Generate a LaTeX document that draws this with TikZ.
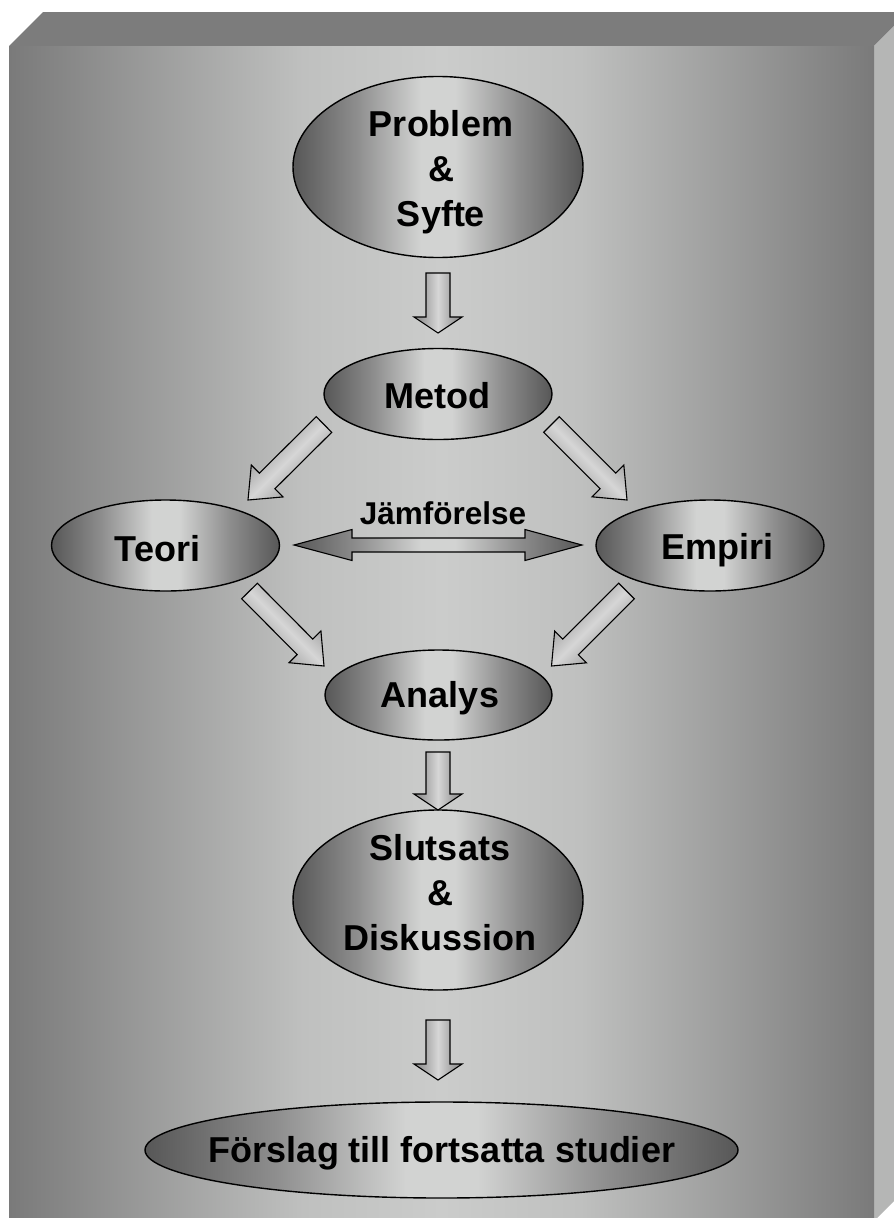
\documentclass[tikz,border=0pt]{standalone}
\usepackage{fontspec}
\setmainfont{Liberation Sans}
\usetikzlibrary{shapes.geometric,calc}
\definecolor{bgdark}{HTML}{7A7A7A}
\definecolor{bgmid}{HTML}{BFC0BF}
\definecolor{bglight}{HTML}{CBCCCB}
\definecolor{topcol}{HTML}{7C7C7C}
\definecolor{sidecol}{HTML}{B5B6B5}
\definecolor{edk}{HTML}{575757}
\definecolor{emd}{HTML}{8E8E8E}
\definecolor{elt}{HTML}{D2D3D2}
\definecolor{adk}{HTML}{9A9A9A}
\definecolor{alt}{HTML}{D6D6D6}
\pgfdeclarehorizontalshading{bgshade}{100bp}{color(0bp)=(bgdark);color(25bp)=(bgdark);color(42bp)=(bgmid);color(50bp)=(bglight);color(58bp)=(bgmid);color(75bp)=(bgdark);color(100bp)=(bgdark)}
\pgfdeclarehorizontalshading{ellshade}{100bp}{color(0bp)=(edk);color(25bp)=(edk);color(36bp)=(emd);color(47bp)=(elt);color(53bp)=(elt);color(64bp)=(emd);color(75bp)=(edk);color(100bp)=(edk)}
\pgfdeclarehorizontalshading{arrshade}{100bp}{color(0bp)=(adk);color(32bp)=(adk);color(50bp)=(alt);color(68bp)=(adk);color(100bp)=(adk)}
\newcommand\blockarrow[6][]{%
  \coordinate (ba-h) at ($(#3)!#6!(#2)$);
  \draw[barrow,#1] ($(#2)!#4!90:(#3)$) -- ($(ba-h)!#4!90:(#3)$) -- ($(ba-h)!#5!90:(#3)$) -- (#3) -- ($(ba-h)!#5!-90:(#3)$) -- ($(ba-h)!#4!-90:(#3)$) -- ($(#2)!#4!-90:(#3)$) -- cycle;}
\tikzset{
  ell/.style={ellipse, draw=black, line width=1.4pt, shade, shading=ellshade, inner sep=0pt},
  lbl/.style={font=\fontsize{36}{45}\selectfont\bfseries, align=center, inner sep=0pt},
  jlbl/.style={font=\fontsize{31.5}{36}\selectfont\bfseries, inner sep=0pt},
  barrow/.style={draw=black, line width=1.1pt, line join=miter, shade, shading=arrshade},
  dblarrow/.style={draw=black, line width=1.1pt, line join=miter, shade, shading=ellshade}
}
\begin{document}
\begin{tikzpicture}[x=1pt,y=-1pt]
\useasboundingbox (0,0) rectangle (894,1218);
\clip (0,0) rectangle (894,1218);
\fill[white] (0,0) rectangle (894,1218);
% box
\fill[topcol] (43,12) -- (908,12) -- (874,46) -- (9,46) -- cycle;
\fill[sidecol] (874,46) -- (908,12) -- (908,1187) -- (874,1221) -- cycle;
\shade[shading=bgshade] (9,46) rectangle (874,1221);
% nodes
\node[ell, minimum width=290pt, minimum height=181pt] (prob) at (438,167) {};
\node[lbl] (probt) at (441,172.5) {Problem\\\&\\Syfte};
\node[ell, minimum width=228pt, minimum height=91pt] (metod) at (438,394) {};
\node[lbl] (metodt) at (437.5,396) {Metod};
\node[ell, minimum width=228pt, minimum height=91pt] (teori) at (165.5,545.5) {};
\node[lbl] (teorit) at (157.5,548.5) {Teori};
\node[ell, minimum width=228pt, minimum height=91pt] (empiri) at (710,545.5) {};
\node[lbl] (empirit) at (717.5,550.5) {Empiri};
\node[ell, minimum width=227pt, minimum height=90pt] (analys) at (438.5,695) {};
\node[lbl] (analyst) at (440,698.5) {Analys};
\node[ell, minimum width=290pt, minimum height=180pt] (slut) at (438,900) {};
\node[lbl] (slutt) at (440,893) {Slutsats\\\&\\Diskussion};
\node[ell, minimum width=593pt, minimum height=96pt] (forslag) at (441.5,1150) {};
\node[lbl] (forslagt) at (442,1153.5) {Förslag till fortsatta studier};
% vertical block arrows
\coordinate (a1t) at (438,273); \coordinate (a1h) at (438,333);
\blockarrow{a1t}{a1h}{12pt}{24pt}{16pt}
\coordinate (a2t) at (438,752); \coordinate (a2h) at (438,810);
\blockarrow{a2t}{a2h}{12pt}{24pt}{16pt}
\coordinate (a3t) at (438,1020); \coordinate (a3h) at (438,1080);
\blockarrow{a3t}{a3h}{12pt}{24pt}{16pt}
% diagonal block arrows
\coordinate (d1t) at (324,424.5); \coordinate (d1h) at (248,500);
\blockarrow[shading angle=-45]{d1t}{d1h}{11pt}{22.5pt}{27pt}
\coordinate (d2t) at (551.5,424.5); \coordinate (d2h) at (627,500);
\blockarrow[shading angle=45]{d2t}{d2h}{11pt}{22.5pt}{27pt}
\coordinate (d3t) at (249.5,591); \coordinate (d3h) at (324,666);
\blockarrow[shading angle=45]{d3t}{d3h}{11pt}{22.5pt}{27pt}
\coordinate (d4t) at (626.5,591); \coordinate (d4h) at (551.5,666);
\blockarrow[shading angle=-45]{d4t}{d4h}{11pt}{22.5pt}{27pt}
% double arrow
\coordinate (jl) at (294,545); \coordinate (jr) at (582,545);
\draw[dblarrow] (jl) -- ($(jl)+(58,-15.5)$) -- ($(jl)+(58,-7)$) -- ($(jr)+(-57,-7)$) -- ($(jr)+(-57,-15.5)$) -- (jr) -- ($(jr)+(-57,15.5)$) -- ($(jr)+(-57,7)$) -- ($(jl)+(58,7)$) -- ($(jl)+(58,15.5)$) -- cycle;
\node[jlbl] (jam) at (443,513) {Jämförelse};
\end{tikzpicture}
\end{document}
